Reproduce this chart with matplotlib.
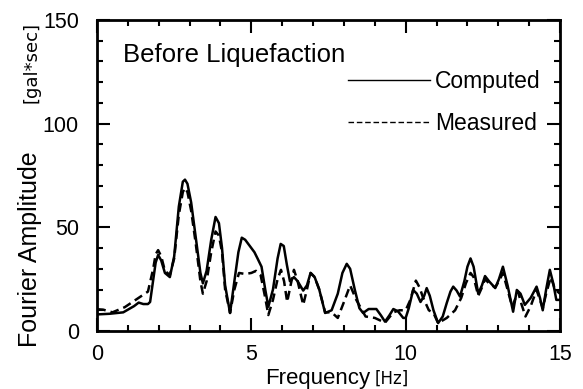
import matplotlib.pyplot as plt
from matplotlib.lines import Line2D
from matplotlib.ticker import MultipleLocator

plt.rcParams['font.family'] = ['Liberation Sans', 'DejaVu Sans']

# Fourier spectra (Hz, gal*sec)
freq_computed = [0.0, 0.4, 0.85, 1.2, 1.35, 1.5, 1.65, 1.72, 1.82, 1.9, 1.98, 2.08, 2.2, 2.36,
                 2.5, 2.65, 2.78, 2.85, 2.93, 3.05, 3.2, 3.35, 3.43, 3.55, 3.7, 3.84, 3.95,
                 4.05, 4.15, 4.31, 4.45, 4.58, 4.69, 4.8, 4.95, 5.1, 5.2, 5.33, 5.45, 5.55,
                 5.7, 5.85, 5.95, 6.05, 6.15, 6.25, 6.38, 6.5, 6.68, 6.8, 6.92, 7.05, 7.2,
                 7.39, 7.6, 7.8, 7.95, 8.09, 8.2, 8.35, 8.5, 8.62, 8.8, 9.05, 9.2, 9.33, 9.47,
                 9.6, 9.75, 9.92, 10.0, 10.1, 10.24, 10.36, 10.48, 10.6, 10.68, 10.78, 10.9,
                 11.05, 11.2, 11.33, 11.45, 11.54, 11.65, 11.76, 11.9, 12.0, 12.1, 12.2, 12.35,
                 12.47, 12.57, 12.7, 12.9, 13.02, 13.15, 13.3, 13.48, 13.6, 13.72, 13.86,
                 14.05, 14.24, 14.35, 14.44, 14.55, 14.67, 14.78, 14.88, 15.0]
amp_computed = [8, 8.3, 9, 12, 13.7, 13, 13, 14, 24.6, 33, 36.7, 34, 28, 26,
                36, 60, 72, 73, 71, 62, 45, 28, 23, 29, 44, 55, 52,
                40, 22, 8.7, 24, 38, 45, 44, 41, 38, 35, 31, 20, 11.7,
                20, 35, 42, 41, 32, 24, 26, 24, 19.5, 22, 28, 26, 20,
                8.7, 10, 18, 28, 32.4, 30, 20, 11, 8.7, 10.6, 10.6, 7.5, 4.5, 7.5,
                10.6, 9.5, 6.3, 6.3, 11, 19.8, 18, 14, 17, 20.7, 17, 10,
                3.8, 7, 13.5, 19, 21.4, 19.5, 16.6, 24, 31, 35, 31, 18,
                22, 26.5, 24, 20.7, 25, 31, 22, 9.3, 19.8, 18, 12.6,
                16, 21.4, 16, 10, 20, 29.5, 23, 15, 15]

freq_measured = [0.0, 0.2, 0.5, 0.9, 1.3, 1.65, 1.82, 1.9, 1.98, 2.08, 2.2, 2.36,
                 2.5, 2.65, 2.78, 2.85, 2.93, 3.05, 3.2, 3.35, 3.43, 3.55, 3.7, 3.84, 3.95,
                 4.05, 4.15, 4.31, 4.45, 4.6, 4.8, 5.0, 5.15, 5.3, 5.45, 5.55, 5.7, 5.85,
                 5.96, 6.06, 6.16, 6.27, 6.38, 6.5, 6.68, 6.8, 6.92, 7.05, 7.2, 7.39, 7.6,
                 7.8, 8.0, 8.2, 8.4, 8.7, 9.0, 9.33, 9.6, 9.8, 10.0, 10.15, 10.33, 10.45,
                 10.55, 10.75, 10.9, 11.05, 11.33, 11.6, 11.8, 11.95, 12.1, 12.2, 12.35,
                 12.47, 12.57, 12.7, 12.9, 13.02, 13.15, 13.3, 13.45, 13.64, 13.75, 13.88,
                 14.05, 14.24, 14.35, 14.44, 14.55, 14.7, 14.84, 15.0]
amp_measured = [10.5, 10.3, 9, 11.5, 15.5, 19, 30, 37, 39, 36, 29, 27,
                35, 56, 67, 69, 67, 58, 42, 24, 18, 24, 38, 48, 46,
                38, 20, 8.7, 20, 28, 27.5, 28, 29, 27, 16, 7.7, 15, 25,
                29.5, 24, 14, 22, 29.5, 24, 12.6, 20, 28, 26, 20, 9, 9,
                6.3, 14, 22, 15, 7, 6.3, 4, 9, 10, 10, 15, 24.3, 21,
                16.6, 10, 8.7, 3.8, 6.3, 10, 16, 23, 28, 26, 17,
                21, 25, 23, 21, 24, 28, 20, 11.7, 19, 13, 7,
                12, 19.8, 15, 11, 18, 26, 20, 18]

series_labels = ["Computed", "Measured"]
title_text = "Before Liquefaction"

fig = plt.figure(figsize=(5.83, 3.89), dpi=100)
ax = fig.add_axes([0.1664, 0.1491, 0.7942, 0.7995])

ax.plot(freq_computed, amp_computed, color='black', lw=1.8, solid_joinstyle='round')
ax.plot(freq_measured, amp_measured, color='black', lw=1.8, dashes=(3.5, 2))

ax.set_xlim(0, 15)
ax.set_ylim(0, 150)
ax.xaxis.set_major_locator(MultipleLocator(5))
ax.xaxis.set_minor_locator(MultipleLocator(1))
ax.yaxis.set_major_locator(MultipleLocator(50))
ax.yaxis.set_minor_locator(MultipleLocator(10))
ax.tick_params(which='both', direction='in', top=True, right=True, width=1.5, colors='black')
ax.tick_params(which='major', length=9.5, labelsize=15.5)
ax.tick_params(which='minor', length=4.5)
ax.tick_params(axis='x', pad=9)
ax.tick_params(axis='y', pad=13)
for s in ax.spines.values():
    s.set_linewidth(2)

ax.text(0.056, 0.865, title_text, transform=ax.transAxes, fontsize=18.5, va='baseline')

handles = [Line2D([], [], color='black', lw=1),
           Line2D([], [], color='black', lw=1, dashes=(4, 2))]
ax.legend(handles, series_labels, loc='upper left', bbox_to_anchor=(0.542, 0.84),
          frameon=False, fontsize=16.5, handlelength=3.6, handletextpad=0.2,
          labelspacing=0.85, borderpad=0, borderaxespad=0)

# axis titles with smaller unit text
fig.text(265 / 583, 1 - 384 / 389, "Frequency", fontsize=16, ha='left', va='baseline')
fig.text(375 / 583, 1 - 384 / 389, "[Hz]", fontsize=12, ha='left', va='baseline',
         family='DejaVu Sans')
fig.text(37 / 583, 1 - 347 / 389, "Fourier Amplitude", fontsize=18, rotation=90,
         rotation_mode='anchor', ha='left', va='baseline')
fig.text(37 / 583, 1 - 22 / 389, "[gal*sec]", fontsize=13, rotation=90,
         rotation_mode='anchor', ha='right', va='baseline', family='DejaVu Sans')

fig.savefig("out.png", dpi=100)
